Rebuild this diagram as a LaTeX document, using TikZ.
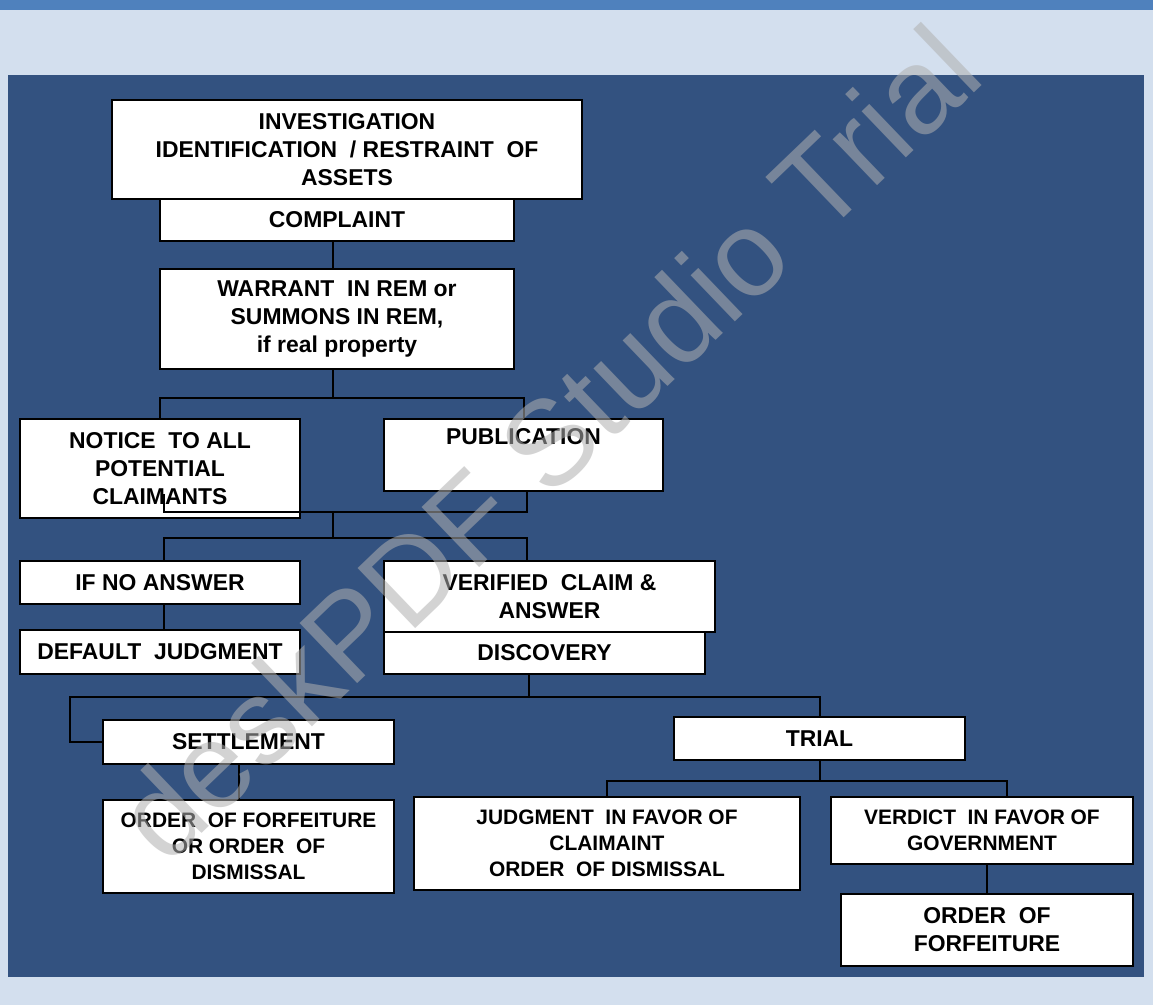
\documentclass[tikz,border=0pt]{standalone}
\usepackage{fontspec}
\setmainfont{Liberation Sans}
\usepackage{tikz}
\usetikzlibrary{calc}
\definecolor{slideBack}{RGB}{211,223,238}
\definecolor{slideBar}{RGB}{79,129,189}
\definecolor{slidePanel}{RGB}{51,82,128}
\definecolor{stampGray}{RGB}{176,176,176}
\tikzstyle{stage} = [draw=black, fill=white, line width=1.5bp, inner sep=0pt, align=center,
        font={\bfseries\fontsize{23}{28}\selectfont}]
\tikzstyle{stageSmall} = [stage, font={\bfseries\fontsize{21}{26}\selectfont}]
\tikzstyle{flow} = [draw=black, line width=2bp]
\tikzstyle{stamp} = [font={\fontsize{121.5}{130}\selectfont}, text=stampGray, text opacity=0.55,
        anchor=base west, rotate=43.8, inner sep=0pt]

\begin{document}
\begin{tikzpicture}[x=1bp, y=-1bp]
                % slide background
                \fill [slideBack] (0,0) rectangle (1153,1005);
                \fill [slideBar] (0,0) rectangle (1153,10);
                \fill [slidePanel] (8,75) rectangle (1144,977);

                \draw
                    (347,149.5) node [stage, minimum width=470bp, minimum height=99bp] (invest) {INVESTIGATION\\IDENTIFICATION~ / RESTRAINT~ OF\\ASSETS}
                    (337,220) node [stage, minimum width=354bp, minimum height=42bp] (complaint) {COMPLAINT}
                    (337,319) node [stage, minimum width=354bp, minimum height=100bp] (warrant) {WARRANT~ IN REM or\\SUMMONS IN REM,\\if real property}
                    (160,468.5) node [stage, minimum width=280bp, minimum height=99bp] (notice) {NOTICE~ TO ALL\\POTENTIAL\\CLAIMANTS}
                    (523.5,455) node [stage, minimum width=279bp, minimum height=72bp] (publication) {PUBLICATION\\\strut}
                    (160,582.5) node [stage, minimum width=280bp, minimum height=43bp] (noanswer) {IF NO ANSWER}
                    (549.5,596.5) node [stage, minimum width=331bp, minimum height=71bp] (claim) {VERIFIED~ CLAIM \&\\ANSWER}
                    (160,652) node [stage, minimum width=280bp, minimum height=44bp] (default) {DEFAULT~ JUDGMENT}
                    (544.5,653) node [stage, minimum width=321bp, minimum height=42bp] (discovery) {DISCOVERY}
                    (248.5,742) node [stage, minimum width=291bp, minimum height=44bp] (settlement) {SETTLEMENT}
                    (248.5,846.5) node [stageSmall, minimum width=291bp, minimum height=93bp] (settleorder) {ORDER~ OF FORFEITURE\\OR ORDER~ OF\\DISMISSAL}
                    (819.5,738.5) node [stage, minimum width=291bp, minimum height=43bp] (trial) {TRIAL}
                    (607,843.5) node [stageSmall, minimum width=386bp, minimum height=93bp] (claimant) {JUDGMENT~ IN FAVOR OF\\CLAIMAINT\\ORDER~ OF DISMISSAL}
                    (982,830.5) node [stageSmall, minimum width=302bp, minimum height=67bp] (government) {VERDICT~ IN FAVOR OF\\GOVERNMENT}
                    (987,930) node [stage, minimum width=292bp, minimum height=72bp] (forfeiture) {ORDER~ OF\\FORFEITURE};

                \coordinate (merge) at (333,512);
                \coordinate (split) at (333,538);
                \coordinate (fork) at (529,697);

                \draw [flow] (complaint.south -| merge) -- (warrant.north -| merge);
                \draw [flow] (warrant.south -| merge) -- ++(0,28) -| (notice.north);
                \draw [flow] (warrant.south -| merge) -- ++(0,28) -| (publication.north);
                \draw [flow] (notice.south) ++(4,-25) |- (merge);
                \draw [flow] (publication.south) ++(3.5,0) |- (merge) -- (split);
                \draw [flow] (split) -| ($(noanswer.north)+(4,0)$);
                \draw [flow] (split) -| ($(claim.north)+(-22.5,0)$);
                \draw [flow] ($(noanswer.south)+(4,0)$) -- ($(default.north)+(4,0)$);
                \draw [flow] (discovery.south -| fork) -- (fork) -| (trial.north);
                \draw [flow] (fork) -| ($(settlement.west)+(-32,0)$) -- (settlement.west);
                \draw [flow] ($(settlement.south)+(-9.5,0)$) -- ($(settleorder.north)+(-9.5,0)$);
                \draw [flow] (trial.south) -- ++(0,20) -| (claimant.north);
                \draw [flow] (trial.south) -- ++(0,20) -| ($(government.north)+(25,0)$);
                \draw [flow] (forfeiture.north |- government.south) -- (forfeiture.north);

                % trial watermark
                \node [stamp] (stamp) at (166,868) {deskPDF Studio Trial};
            \end{tikzpicture}
\end{document}
